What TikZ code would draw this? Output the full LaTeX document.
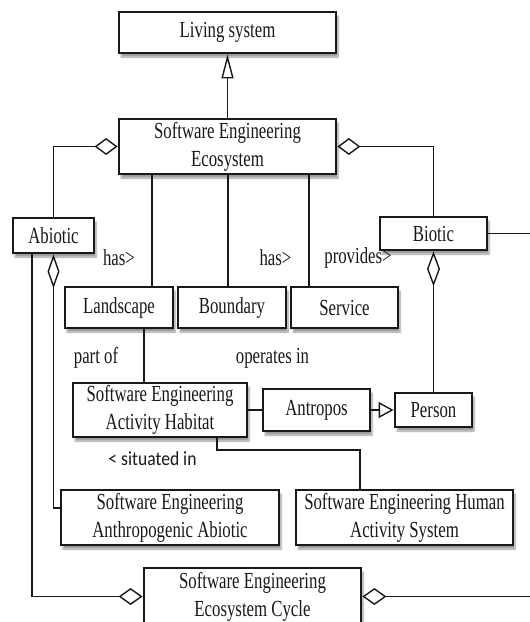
\documentclass[tikz,border=0pt]{standalone}
\usepackage{fontspec}
\setmainfont{Liberation Serif}[FakeStretch=0.73]
\newfontfamily\lblsans{Carlito}[FakeStretch=0.88]
\usetikzlibrary{arrows.meta,shadows.blur}
\tikzset{
  box/.style={draw=black!90, line width=2.8pt, fill=white, align=center, inner sep=0pt,
    blur shadow={shadow xshift=2pt, shadow yshift=-4pt, shadow opacity=40, shadow blur steps=6}},
  conn/.style={draw=black!90, line width=1.4pt},
  lbl/.style={inner sep=0pt, text=black!90},
}
\begin{document}
\begin{tikzpicture}[x=1pt, y=-1pt, font=\fontsize{23}{28}\selectfont, text=black!90]
\useasboundingbox (0,0) rectangle (530,622);

% boxes
\node[box, minimum width=217pt, minimum height=41pt] (living) at (227.5,32.5) {Living system};
\node[box, minimum width=217pt, minimum height=55pt] (see) at (227.5,146.5) {Software Engineering\\Ecosystem};
\node[box, minimum width=81pt, minimum height=35pt] (abiotic) at (53.5,235.5) {Abiotic};
\node[box, minimum width=107pt, minimum height=33pt] (biotic) at (433.5,233.5) {Biotic};
\node[box, minimum width=108pt, minimum height=41pt] (landscape) at (119,307.5) {Landscape};
\node[box, minimum width=108pt, minimum height=41pt] (boundary) at (232,307.5) {Boundary};
\node[box, minimum width=107pt, minimum height=41pt] (service) at (344.5,307.5) {Service};
\node[box, minimum width=174pt, minimum height=54pt] (habitat) at (160,410) {Software Engineering\\Activity Habitat};
\node[box, minimum width=107pt, minimum height=42pt] (antropos) at (316.5,410) {Antropos};
\node[box, minimum width=77pt, minimum height=34pt] (person) at (433.5,410) {Person};
\node[box, minimum width=218pt, minimum height=55pt] (anthro) at (170,517.5) {Software Engineering\\Anthropogenic Abiotic};
\node[box, minimum width=217pt, minimum height=55pt] (has) at (404.5,517.5) {Software Engineering Human\\Activity System};
\node[box, minimum width=217pt, minimum height=57pt] (cycle) at (252.5,596.5) {Software Engineering\\Ecosystem Cycle};

% helper coordinates
\coordinate (lx1) at (152,0);
\coordinate (bx1) at (228,0);
\coordinate (sx1) at (309,0);
\coordinate (ax) at (32,0);
\coordinate (aj) at (0,508);
\coordinate (rx) at (545,0);
\coordinate (lx2) at (144,0);
\coordinate (hx) at (217,450);
\coordinate (hy) at (360,0);

% connectors
\draw[conn, -{Triangle[open, length=24pt, width=12pt]}] (see.north) -- (living.south);
\draw[conn, {Diamond[open, length=23pt, width=17pt]}-] (see.west) -| (abiotic.north);
\draw[conn, {Diamond[open, length=23pt, width=17pt]}-] (see.east) -| (biotic.north);
\draw[conn] (see.south -| lx1) -- (landscape.north -| lx1);
\draw[conn] (see.south -| bx1) -- (boundary.north -| bx1);
\draw[conn] (see.south -| sx1) -- (service.north -| sx1);
\draw[conn, -{Diamond[open, length=24pt, width=17pt]}] (abiotic.south -| ax) |- (cycle.west);
\draw[conn, {Diamond[open, length=34pt, width=12pt]}-] (abiotic.south) |- (anthro.west |- aj);
\draw[conn, -{Diamond[open, length=24pt, width=17pt]}] (biotic.east) -- (biotic.east -| rx) -- (cycle.east -| rx) -- (cycle.east);
\draw[conn, {Diamond[open, length=35pt, width=13pt]}-] (biotic.south) -- (person.north);
\draw[conn] (landscape.south -| lx2) -- (habitat.north -| lx2);
\draw[conn] (habitat.east) -- (antropos.west);
\draw[conn, -{Triangle[open, length=15pt, width=16pt]}] (antropos.east) -- (person.west);
\draw[conn] (habitat.south -| hx) |- (hy |- hx) -- (has.north -| hy);

% labels
\node[lbl] (l1) at (119,258) {has>};
\node[lbl] (l2) at (275.5,258) {has>};
\node[lbl] (l3) at (358,258) {provides>};
\node[lbl] (l4) at (96,358) {part of};
\node[lbl] (l5) at (272.5,358) {operates in};
\node[lbl, font=\lblsans\fontsize{20}{24}\selectfont] (l6) at (152.5,459) {< situated in};
\end{tikzpicture}
\end{document}
